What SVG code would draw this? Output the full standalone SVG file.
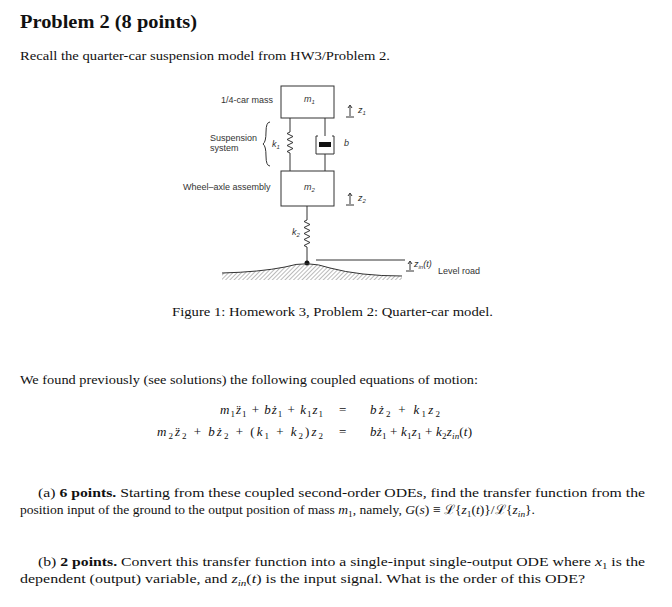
<svg xmlns="http://www.w3.org/2000/svg" width="672" height="607" viewBox="0 0 672 607">
<style>
.t{font-family:"Liberation Serif",serif;font-size:13px;fill:#111}
.s{font-family:"Liberation Sans",sans-serif;font-size:9px;fill:#333}
.i{font-style:italic}
.ln{stroke:#333;stroke-width:1;fill:none}
</style>
<defs><pattern id="h" width="3" height="3" patternUnits="userSpaceOnUse" patternTransform="rotate(45)"><line x1="0" y1="0" x2="0" y2="3" stroke="#777" stroke-width="1"/></pattern></defs>
<rect width="672" height="607" fill="#fff"/>
<text x="20" y="28" font-family="Liberation Serif,serif" font-size="18" font-weight="bold" fill="#111" textLength="177" lengthAdjust="spacingAndGlyphs">Problem 2 (8 points)</text>
<text class="t" x="20" y="60" textLength="370" lengthAdjust="spacingAndGlyphs">Recall the quarter-car suspension model from HW3/Problem 2.</text>
<g id="m1"><rect x="281" y="86" width="53" height="32" class="ln"/><text class="s i" x="304" y="102">m<tspan font-size="6" dy="2">1</tspan></text></g>
<g id="m2"><rect x="281" y="171" width="53" height="35" class="ln"/><text class="s i" x="304" y="190">m<tspan font-size="6" dy="2">2</tspan></text></g>
<g id="k1"><path class="ln" d="M290 118V132l-3 1.5 6 3-6 3 6 3-6 3 6 3-6 3 3 1.5V171"/></g>
<g id="damper"><path class="ln" d="M325 118V136M318 136h-2v18h18v-18h-2M325 154V171"/><rect x="319" y="142" width="12" height="5" fill="#111"/><text class="s i" x="344" y="146">b</text></g>
<g id="k2"><path class="ln" d="M307 206V220l-3 1.5 6 3-6 3 6 3-6 3 6 3-6 3 6 3-6 3 3 1.5V263"/><circle cx="307" cy="263" r="2.5" fill="#111"/></g>
<g id="road"><path d="M222 273Q260 272 285 267Q307 260 330 268Q360 276 402 276V280H222Z" fill="url(#h)"/><path class="ln" d="M222 273Q260 272 285 267Q307 260 330 268Q360 276 402 276"/><path class="ln" d="M316 260H405"/></g>
<g id="labels" class="s">
<text x="221" y="103">1/4-car mass</text>
<text x="210" y="141">Suspension</text><text x="210" y="151">system</text>
<path class="ln" d="M270 122q-4 0-4 10t-3 12q3 2 3 12t4 10"/>
<text class="i" x="272" y="147">k<tspan font-size="6" dy="2">1</tspan></text>
<text x="183" y="190">Wheel–axle assembly</text>
<text class="i" x="292" y="235">k<tspan font-size="6" dy="2">2</tspan></text>
<text class="i" x="358" y="113">z<tspan font-size="6" dy="2">1</tspan></text>
<text class="i" x="358" y="201">z<tspan font-size="6" dy="2">2</tspan></text>
<text class="i" x="414" y="267">z<tspan font-size="6" dy="2">in</tspan><tspan dy="-2">(t)</tspan></text>
<text x="438" y="274">Level road</text>
</g>
<g id="arrows" class="ln">
<path d="M350 116V106M348 108l2-3 2 3M346 117h8"/>
<path d="M350 204V194M348 196l2-3 2 3M346 205h8"/>
<path d="M410 270V262M408 264l2-3 2 3M406 271h8"/>
</g>
<text class="t" x="172" y="316" textLength="321" lengthAdjust="spacingAndGlyphs">Figure 1: Homework 3, Problem 2: Quarter-car model.</text>
<text class="t" x="20" y="384" textLength="458" lengthAdjust="spacingAndGlyphs">We found previously (see solutions) the following coupled equations of motion:</text>
<text class="t" x="220" y="414" textLength="103" lengthAdjust="spacing"><tspan class="i">m</tspan><tspan font-size="9" dy="3">1</tspan><tspan dy="-3" class="i">z̈</tspan><tspan font-size="9" dy="3">1</tspan><tspan dy="-3"> + </tspan><tspan class="i">bż</tspan><tspan font-size="9" dy="3">1</tspan><tspan dy="-3"> + </tspan><tspan class="i">k</tspan><tspan font-size="9" dy="3">1</tspan><tspan dy="-3" class="i">z</tspan><tspan font-size="9" dy="3">1</tspan></text>
<text class="t" x="157" y="436" textLength="166" lengthAdjust="spacing"><tspan class="i">m</tspan><tspan font-size="9" dy="3">2</tspan><tspan dy="-3" class="i">z̈</tspan><tspan font-size="9" dy="3">2</tspan><tspan dy="-3"> + </tspan><tspan class="i">bż</tspan><tspan font-size="9" dy="3">2</tspan><tspan dy="-3"> + (</tspan><tspan class="i">k</tspan><tspan font-size="9" dy="3">1</tspan><tspan dy="-3"> + </tspan><tspan class="i">k</tspan><tspan font-size="9" dy="3">2</tspan><tspan dy="-3">)</tspan><tspan class="i">z</tspan><tspan font-size="9" dy="3">2</tspan></text>
<text class="t" x="339" y="414">=</text><text class="t" x="339" y="436">=</text>
<text class="t" x="370" y="414" textLength="70" lengthAdjust="spacing"><tspan class="i">bż</tspan><tspan font-size="9" dy="3">2</tspan><tspan dy="-3"> + </tspan><tspan class="i">k</tspan><tspan font-size="9" dy="3">1</tspan><tspan dy="-3" class="i">z</tspan><tspan font-size="9" dy="3">2</tspan></text>
<text class="t" x="370" y="436" textLength="102" lengthAdjust="spacing"><tspan class="i">bż</tspan><tspan font-size="9" dy="3">1</tspan><tspan dy="-3"> + </tspan><tspan class="i">k</tspan><tspan font-size="9" dy="3">1</tspan><tspan dy="-3" class="i">z</tspan><tspan font-size="9" dy="3">1</tspan><tspan dy="-3"> + </tspan><tspan class="i">k</tspan><tspan font-size="9" dy="3">2</tspan><tspan dy="-3" class="i">z</tspan><tspan font-size="9" dy="3" class="i">in</tspan><tspan dy="-3">(</tspan><tspan class="i">t</tspan><tspan>)</tspan></text>
<text class="t" x="38" y="497" textLength="607" lengthAdjust="spacingAndGlyphs">(a) <tspan font-weight="bold">6 points.</tspan> Starting from these coupled second-order ODEs, find the transfer function from the</text>
<text class="t" x="20" y="514" textLength="515" lengthAdjust="spacingAndGlyphs">position input of the ground to the output position of mass <tspan class="i">m</tspan><tspan font-size="9" dy="3">1</tspan><tspan dy="-3">, namely, </tspan><tspan class="i">G</tspan>(<tspan class="i">s</tspan>) ≡ ℒ{<tspan class="i">z</tspan><tspan font-size="9" dy="3">1</tspan><tspan dy="-3">(</tspan><tspan class="i">t</tspan>)}/ℒ{<tspan class="i">z</tspan><tspan font-size="9" dy="3" class="i">in</tspan><tspan dy="-3">}.</tspan></text>
<text class="t" x="38" y="566" textLength="607" lengthAdjust="spacingAndGlyphs">(b) <tspan font-weight="bold">2 points.</tspan> Convert this transfer function into a single-input single-output ODE where <tspan class="i">x</tspan><tspan font-size="9" dy="3">1</tspan><tspan dy="-3"> is the</tspan></text>
<text class="t" x="20" y="583" textLength="565" lengthAdjust="spacingAndGlyphs">dependent (output) variable, and <tspan class="i">z</tspan><tspan font-size="9" dy="3" class="i">in</tspan><tspan dy="-3">(</tspan><tspan class="i">t</tspan>) is the input signal. What is the order of this ODE?</text>
</svg>
